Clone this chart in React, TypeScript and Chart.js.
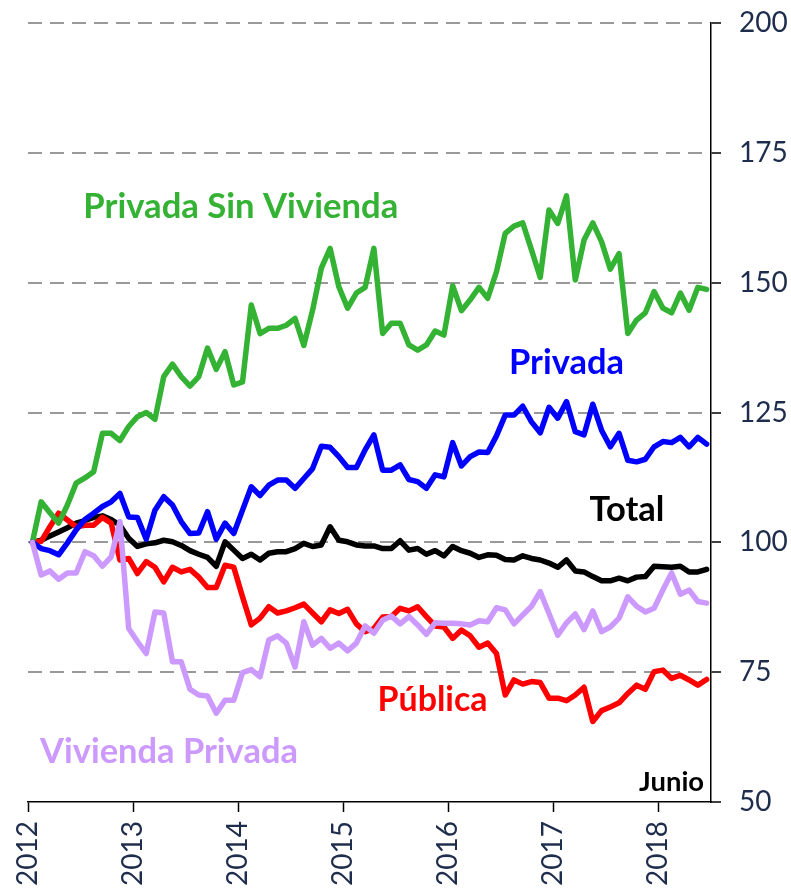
import React, { useEffect, useRef } from 'react';
import { Chart, registerables } from 'chart.js';

Chart.register(...registerables);

// ---- Data (monthly index, Jan 2012 = 100, through June 2018) ----
const yearLabels = ['2012', '2013', '2014', '2015', '2016', '2017', '2018'];
const yTickValues = [50, 75, 100, 125, 150, 175, 200];

const privadaSinVivienda = [
  100, 107.8, 105.7, 103.7, 107.2, 111.4, 112.4, 113.6, 121.0, 121.0,
  119.6, 122.3, 124.2, 125.0, 123.7, 131.9, 134.3, 131.9, 130.1, 131.9,
  137.4, 133.3, 136.7, 130.3, 130.9, 145.7, 140.2, 141.2, 141.2, 141.8,
  143.1, 137.9, 144.7, 152.8, 156.6, 149.2, 145.1, 148.0, 149.1, 156.6,
  140.2, 142.2, 142.2, 138.0, 137.0, 138.0, 140.7, 139.9, 149.4, 144.6,
  146.7, 149.1, 147.0, 152.1, 159.5, 160.9, 161.5, 156.3, 151.0, 164.0,
  161.4, 166.7, 150.5, 158.2, 161.5, 157.9, 152.6, 155.6, 140.2, 142.8,
  144.2, 148.3, 145.1, 144.2, 148.0, 144.7, 149.1, 148.7,
];

const privada = [
  100, 98.8, 98.4, 97.6, 99.9, 102.4, 104.4, 105.6, 106.9, 107.8,
  109.4, 104.9, 104.8, 100.6, 106.2, 108.8, 107.2, 104.0, 101.7, 101.8,
  105.9, 100.6, 103.7, 101.7, 106.2, 110.7, 109.0, 111.0, 112.0, 112.0,
  110.4, 112.3, 114.2, 118.5, 118.3, 116.5, 114.4, 114.4, 117.8, 120.7,
  113.9, 113.9, 114.9, 112.1, 111.7, 110.4, 113.0, 112.6, 119.2, 114.7,
  116.5, 117.4, 117.3, 120.5, 124.5, 124.5, 126.2, 123.2, 121.1, 126.0,
  123.9, 127.1, 121.3, 120.7, 126.6, 121.6, 118.4, 121.0, 115.8, 115.5,
  116.0, 118.4, 119.4, 119.2, 120.2, 118.4, 120.2, 118.9,
];

const total = [
  100, 100.4, 101.2, 102.0, 102.8, 103.7, 104.2, 104.8, 105.1, 104.4,
  103.3, 100.8, 99.2, 99.7, 99.9, 100.4, 100.1, 99.4, 98.4, 97.7,
  97.1, 95.4, 100.1, 98.5, 96.9, 97.7, 96.6, 97.9, 98.2, 98.2,
  98.8, 99.8, 99.2, 99.5, 103.0, 100.4, 100.1, 99.5, 99.3, 99.3,
  98.8, 98.8, 100.3, 98.5, 98.8, 97.7, 98.4, 97.4, 99.2, 98.4,
  97.9, 97.1, 97.6, 97.5, 96.7, 96.6, 97.4, 96.9, 96.6, 96.0,
  95.2, 96.6, 94.5, 94.3, 93.4, 92.6, 92.6, 93.1, 92.6, 93.3,
  93.4, 95.4, 95.3, 95.2, 95.4, 94.3, 94.3, 94.8,
];

const publica = [
  100, 100.2, 103.0, 105.6, 104.3, 103.0, 103.3, 103.3, 104.8, 103.7,
  96.6, 96.9, 94.0, 96.3, 95.2, 92.4, 95.2, 94.3, 94.8, 93.3,
  91.3, 91.3, 95.6, 95.2, 89.5, 84.1, 85.4, 87.6, 86.4, 86.8,
  87.4, 88.1, 86.4, 84.7, 87.0, 86.3, 87.1, 84.3, 82.8, 83.4,
  85.6, 85.7, 87.3, 86.8, 87.6, 85.7, 83.9, 83.7, 81.5, 83.1,
  82.0, 79.8, 80.6, 78.6, 70.6, 73.5, 72.7, 73.2, 73.0, 70.0,
  70.0, 69.5, 70.6, 72.1, 65.5, 67.6, 68.3, 69.1, 70.9, 72.5,
  71.7, 75.1, 75.4, 73.8, 74.4, 73.5, 72.5, 73.6,
];

const viviendaPrivada = [
  100, 93.7, 94.5, 92.9, 94.1, 94.1, 98.2, 97.4, 95.4, 97.2,
  104.0, 83.4, 80.9, 78.6, 86.6, 86.4, 77.0, 77.0, 71.7, 70.6,
  70.4, 67.1, 69.6, 69.6, 74.9, 75.5, 74.1, 81.2, 82.0, 80.6,
  76.0, 84.7, 80.2, 81.5, 79.6, 80.6, 79.1, 80.6, 83.9, 82.5,
  85.0, 85.8, 84.3, 85.7, 84.1, 82.3, 84.5, 84.4, 84.4, 84.3,
  84.1, 84.9, 84.7, 87.4, 87.0, 84.3, 86.0, 87.7, 90.5, 86.3,
  82.1, 84.5, 86.2, 83.2, 86.8, 82.8, 83.7, 85.4, 89.5, 87.7,
  86.6, 87.3, 90.8, 94.1, 90.0, 90.8, 88.6, 88.3,
];

// ---- Styles ----
const GREEN = '#33b233';
const BLUE = '#0000ff';
const BLACK = '#000000';
const RED = '#ff0000';
const LAVENDER = '#cc99ff';
const NAVY = '#1f2d4d';
const FONT = 'Lato';
const MONTHS = 12;
const X_MAX = 78;

// Series labels placed in data coordinates, fitted to a target pixel width
const seriesLabels = [
  { text: 'Privada Sin Vivienda', color: GREEN, x: 24.3, y: 164.6, width: 315 },
  { text: 'Privada', color: BLUE, x: 61.5, y: 134.5, width: 115 },
  { text: 'Total', color: BLACK, x: 68.4, y: 106.2, width: 75 },
  { text: 'Pública', color: RED, x: 46.2, y: 69.6, width: 110 },
  { text: 'Vivienda Privada', color: LAVENDER, x: 16.1, y: 59.6, width: 258 },
  { text: 'Junio', color: BLACK, x: 73.5, y: 53.8, width: 65 },
];

const toPoints = (vals: number[]) => vals.map((v, i) => ({ x: i + 0.5, y: v }));

const labelPlugin = {
  id: 'seriesLabels',
  afterDatasetsDraw(chart: any) {
    const { ctx, scales } = chart;
    const xs = scales.x;
    const ys = scales.y;
    ctx.save();
    ctx.textAlign = 'center';
    ctx.textBaseline = 'middle';
    for (const l of seriesLabels) {
      ctx.font = `bold 100px ${FONT}`;
      const w = ctx.measureText(l.text).width;
      const size = (100 * l.width) / w;
      ctx.font = `bold ${size}px ${FONT}`;
      ctx.fillStyle = l.color;
      ctx.fillText(l.text, xs.getPixelForValue(l.x), ys.getPixelForValue(l.y));
    }
    ctx.restore();
  },
};

export default function App() {
  const ref = useRef<HTMLCanvasElement | null>(null);

  useEffect(() => {
    if (!ref.current) return;
    const line = (data: number[], color: string) => ({
      data: toPoints(data),
      borderColor: color,
      backgroundColor: color,
      borderWidth: 5.5,
      pointRadius: 0,
      tension: 0,
      borderJoinStyle: 'round' as const,
      borderCapStyle: 'round' as const,
      fill: false,
    });
    const chart = new Chart(ref.current, {
      type: 'line',
      data: {
        datasets: [
          { label: 'Vivienda Privada', ...line(viviendaPrivada, LAVENDER) },
          { label: 'Privada', ...line(privada, BLUE) },
          { label: 'Privada Sin Vivienda', ...line(privadaSinVivienda, GREEN) },
          { label: 'Pública', ...line(publica, RED) },
          { label: 'Total', ...line(total, BLACK) },
        ],
      },
      options: {
        animation: false,
        responsive: false,
        maintainAspectRatio: false,
        layout: { padding: { left: 28, top: 23, right: 0, bottom: 0 } },
        plugins: { legend: { display: false }, tooltip: { enabled: false } },
        scales: {
          x: {
            type: 'linear',
            min: 0,
            max: X_MAX,
            afterBuildTicks: (s: any) => {
              s.ticks = yearLabels.map((_, k) => ({ value: k * MONTHS }));
            },
            afterFit: (s: any) => {
              s.height = 86;
            },
            ticks: {
              autoSkip: false,
              minRotation: 90,
              maxRotation: 90,
              padding: 9,
              color: NAVY,
              font: { family: FONT, size: 28 },
              callback: (v: any) => yearLabels[Math.round(Number(v) / MONTHS)] ?? '',
            },
            grid: {
              drawOnChartArea: false,
              drawTicks: true,
              tickLength: 10,
              tickColor: '#000',
              tickWidth: 1.5,
            },
            border: { display: true, color: '#000', width: 1.5 },
          },
          y: {
            position: 'right',
            min: 50,
            max: 200,
            afterBuildTicks: (s: any) => {
              s.ticks = yTickValues.map((v) => ({ value: v }));
            },
            afterFit: (s: any) => {
              s.width = 80;
              s.paddingTop = 0;
              s.paddingBottom = 0;
            },
            ticks: {
              padding: 18,
              color: NAVY,
              font: { family: FONT, size: 28 },
            },
            grid: {
              color: (c: any) => (c.tick && c.tick.value === 50 ? 'rgba(0,0,0,0)' : '#999999'),
              lineWidth: 2,
              drawTicks: true,
              tickLength: 10,
              tickColor: '#000',
              tickWidth: 1.5,
              tickBorderDash: [],
            },
            border: { display: true, color: '#000', width: 1.5, dash: [14, 8] },
          },
        },
      },
      plugins: [labelPlugin],
    } as any);
    return () => chart.destroy();
  }, []);

  return (
    <div style={{ position: 'fixed', left: 0, top: 0, width: 791, height: 888, background: '#fff' }}>
      <canvas ref={ref} width={791} height={888} style={{ display: 'block', width: 791, height: 888 }} />
    </div>
  );
}
